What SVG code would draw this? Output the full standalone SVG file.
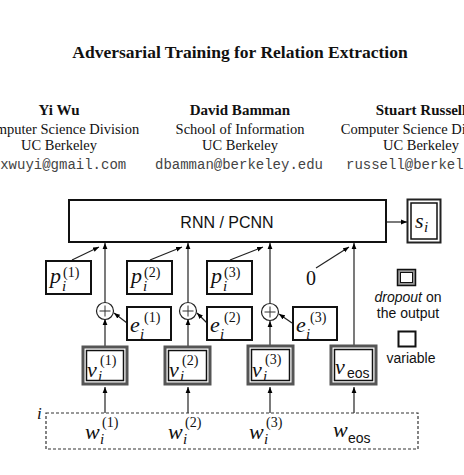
<svg xmlns="http://www.w3.org/2000/svg" width="464" height="475" viewBox="0 0 464 475">
<defs>
<marker id="ah" viewBox="0 0 10 10" refX="10" refY="5" markerWidth="6" markerHeight="6" orient="auto" markerUnits="userSpaceOnUse">
<path d="M0,1 L10,5 L0,9 Z" fill="#000"/>
</marker>
</defs>
<style>
.hdr{font-family:"Liberation Serif",serif;fill:#111;text-anchor:middle}
.ttl{font-size:17.5px;font-weight:bold}
.nm{font-size:15px;font-weight:bold}
.af{font-size:14.5px}
.em{font-family:"Liberation Mono",monospace;font-size:14px;fill:#444;text-anchor:middle}
.box{fill:#fff;stroke:#111;stroke-width:2}
.outer{fill:#fff;stroke:#555;stroke-width:3}
.inner{fill:none;stroke:#111;stroke-width:1.5}
.ar{stroke:#222;stroke-width:1.2;fill:none;marker-end:url(#ah)}
.m{font-family:"Liberation Serif",serif;font-style:italic;font-size:22px;fill:#111}
.sup{font-family:"Liberation Serif",serif;font-size:14px;fill:#111}
.sub{font-family:"Liberation Serif",serif;font-style:italic;font-size:15px;fill:#111}
.eos{font-family:"Liberation Sans",sans-serif;font-size:14px;fill:#111}
.sans{font-family:"Liberation Sans",sans-serif;font-size:14px;fill:#111}
</style>
<rect width="464" height="475" fill="#fff"/>
<g id="header">
<text class="hdr ttl" x="240" y="58">Adversarial Training for Relation Extraction</text>
<text class="hdr nm" x="59" y="115">Yi Wu</text>
<text class="hdr af" x="59" y="134">Computer Science Division</text>
<text class="hdr af" x="59" y="150">UC Berkeley</text>
<text class="em" x="59" y="169">jxwuyi@gmail.com</text>
<text class="hdr nm" x="240" y="115">David Bamman</text>
<text class="hdr af" x="240" y="134">School of Information</text>
<text class="hdr af" x="240" y="150">UC Berkeley</text>
<text class="em" x="239" y="169">dbamman@berkeley.edu</text>
<text class="hdr nm" x="421" y="115">Stuart Russell</text>
<text class="hdr af" x="421" y="134">Computer Science Division</text>
<text class="hdr af" x="421" y="150">UC Berkeley</text>
<text class="em" x="430" y="169">russell@berkeley.edu</text>
</g>
<g id="connectors">
<line class="ar" x1="386" y1="222" x2="407" y2="222"/>
<line class="ar" x1="72" y1="260" x2="99" y2="247"/>
<line class="ar" x1="150" y1="260" x2="182" y2="247"/>
<line class="ar" x1="230" y1="260" x2="263" y2="247"/>
<line class="ar" x1="316" y1="268" x2="349" y2="247"/>
<line class="ar" x1="105" y1="302" x2="105" y2="243"/>
<line class="ar" x1="188" y1="302" x2="188" y2="243"/>
<line class="ar" x1="270" y1="303" x2="270" y2="243"/>
<line class="ar" x1="354" y1="345" x2="354" y2="243"/>
<line class="ar" x1="105" y1="346" x2="105" y2="319"/>
<line class="ar" x1="188" y1="346" x2="188" y2="319"/>
<line class="ar" x1="270" y1="345" x2="270" y2="321"/>
<line class="ar" x1="127" y1="323" x2="114" y2="313"/>
<line class="ar" x1="207" y1="323" x2="197" y2="313"/>
<line class="ar" x1="292" y1="323" x2="279" y2="314"/>
<line class="ar" x1="105" y1="413" x2="105" y2="387"/>
<line class="ar" x1="188" y1="413" x2="188" y2="387"/>
<line class="ar" x1="270" y1="413" x2="270" y2="387"/>
<line class="ar" x1="354" y1="413" x2="354" y2="387"/>
</g>
<g id="rnn">
<rect class="box" x="69" y="200" width="317" height="42"/>
<text x="227" y="228" text-anchor="middle" style="font-family:'Liberation Sans',sans-serif;font-size:16px;fill:#111">RNN / PCNN</text>
</g>
<g id="s">
<rect x="407.5" y="199.5" width="33" height="43" fill="#fff" stroke="#222" stroke-width="2"/>
<rect class="inner" x="411" y="203" width="26" height="36"/>
<text class="m" x="415" y="228">s</text>
<text class="sub" x="424" y="232">i</text>
</g>
<g id="p1">
<rect class="box" x="46" y="261" width="45" height="33"/>
<text class="m" x="50" y="283">p</text><text class="sub" x="62" y="291">i</text><text class="sup" x="63" y="277">(1)</text>
</g>
<g id="p2">
<rect class="box" x="127" y="261" width="45" height="33"/>
<text class="m" x="131" y="283">p</text><text class="sub" x="143" y="291">i</text><text class="sup" x="144" y="277">(2)</text>
</g>
<g id="p3">
<rect class="box" x="207" y="261" width="45" height="33"/>
<text class="m" x="211" y="283">p</text><text class="sub" x="223" y="291">i</text><text class="sup" x="224" y="277">(3)</text>
</g>
<g id="zero">
<text x="306" y="285" style="font-family:'Liberation Serif',serif;font-size:20px;fill:#111">0</text>
</g>
<g id="plus1">
<circle cx="105" cy="311" r="8.5" fill="#fff" stroke="#222" stroke-width="1.2"/>
<path d="M99.5,311 H110.5 M105,305.5 V316.5" stroke="#333" stroke-width="1"/>
</g>
<g id="plus2">
<circle cx="188" cy="311" r="8.5" fill="#fff" stroke="#222" stroke-width="1.2"/>
<path d="M182.5,311 H193.5 M188,305.5 V316.5" stroke="#333" stroke-width="1"/>
</g>
<g id="plus3">
<circle cx="270" cy="312" r="8.5" fill="#fff" stroke="#222" stroke-width="1.2"/>
<path d="M264.5,312 H275.5 M270,306.5 V317.5" stroke="#333" stroke-width="1"/>
</g>
<g id="e1">
<rect class="box" x="127" y="307" width="44" height="33"/>
<text class="m" x="130" y="332">e</text><text class="sub" x="140" y="339">i</text><text class="sup" x="144" y="322">(1)</text>
</g>
<g id="e2">
<rect class="box" x="207" y="307" width="45" height="33"/>
<text class="m" x="210" y="332">e</text><text class="sub" x="220" y="339">i</text><text class="sup" x="224" y="322">(2)</text>
</g>
<g id="e3">
<rect class="box" x="293" y="307" width="44" height="33"/>
<text class="m" x="296" y="332">e</text><text class="sub" x="306" y="339">i</text><text class="sup" x="310" y="322">(3)</text>
</g>
<g id="v1">
<rect class="outer" x="83" y="347" width="44" height="37"/>
<rect class="inner" x="86.5" y="350.5" width="37" height="30"/>
<text class="m" x="87" y="377">v</text><text class="sub" x="98" y="381">i</text><text class="sup" x="100" y="365">(1)</text>
</g>
<g id="v2">
<rect class="outer" x="165" y="347" width="45" height="37"/>
<rect class="inner" x="168.5" y="350.5" width="38" height="30"/>
<text class="m" x="169" y="377">v</text><text class="sub" x="180" y="381">i</text><text class="sup" x="182" y="365">(2)</text>
</g>
<g id="v3">
<rect class="outer" x="248" y="346" width="45" height="38"/>
<rect class="inner" x="251.5" y="349.5" width="38" height="31"/>
<text class="m" x="252" y="377">v</text><text class="sub" x="263" y="381">i</text><text class="sup" x="265" y="364">(3)</text>
</g>
<g id="veos">
<rect class="outer" x="331" y="346" width="45" height="38"/>
<rect class="inner" x="334.5" y="349.5" width="38" height="31"/>
<text class="m" x="335" y="374">v</text><text class="eos" x="347" y="378">eos</text>
</g>
<g id="legend">
<rect x="397.5" y="269.5" width="18" height="16" fill="#999" stroke="#111" stroke-width="1.5"/>
<rect x="400.5" y="272.5" width="12" height="10" fill="#fff" stroke="#111" stroke-width="1"/>
<text class="sans" x="408" y="302" text-anchor="middle"><tspan font-style="italic">dropout</tspan> on</text>
<text class="sans" x="408" y="318" text-anchor="middle">the output</text>
<rect x="398.5" y="331.5" width="17" height="15" fill="#fff" stroke="#111" stroke-width="2"/>
<text class="sans" x="411" y="363" text-anchor="middle">variable</text>
</g>
<g id="input">
<rect x="46" y="413" width="372" height="36" fill="none" stroke="#333" stroke-width="1.2" stroke-dasharray="3,2"/>
<text x="37" y="419" style="font-family:'Liberation Serif',serif;font-style:italic;font-size:17px;fill:#111">i</text>
<text class="m" x="85" y="439">w</text><text class="sub" x="100" y="444">i</text><text class="sup" x="102" y="427">(1)</text>
<text class="m" x="168" y="439">w</text><text class="sub" x="183" y="444">i</text><text class="sup" x="185" y="427">(2)</text>
<text class="m" x="249" y="439">w</text><text class="sub" x="264" y="444">i</text><text class="sup" x="266" y="427">(3)</text>
<text class="m" x="333" y="437">w</text><text class="eos" x="348" y="443">eos</text>
</g>
</svg>
